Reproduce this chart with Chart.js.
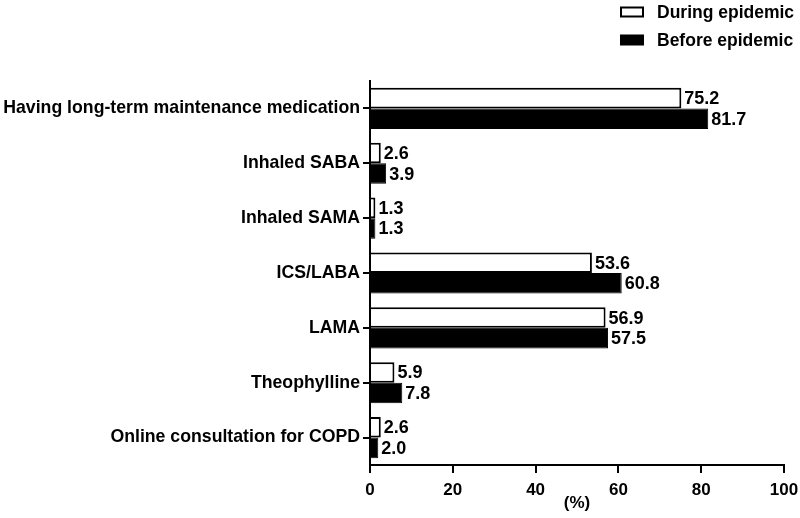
<!DOCTYPE html>
<html>
<head>
<meta charset="utf-8">
<script src="https://cdn.jsdelivr.net/npm/chart.js@4/dist/chart.umd.min.js"></script>
<style>
  html, body { margin: 0; padding: 0; background: #fff; }
  #wrap { width: 800px; height: 518px; position: relative; }
</style>
</head>
<body>
<div id="wrap"><canvas id="c" width="800" height="518"></canvas></div>
<script>
const categories = [
  "Having long-term maintenance medication",
  "Inhaled SABA",
  "Inhaled SAMA",
  "ICS/LABA",
  "LAMA",
  "Theophylline",
  "Online consultation for COPD"
];
const seriesNames = ["During epidemic", "Before epidemic"];
const duringEpidemic = [75.2, 2.6, 1.3, 53.6, 56.9, 5.9, 2.6];
const beforeEpidemic = [81.7, 3.9, 1.3, 60.8, 57.5, 7.8, 2.0];
const xTicks = [0, 20, 40, 60, 80, 100];

const FONT = "'Liberation Sans', Arial, Helvetica, sans-serif";

const valueLabels = {
  id: 'valueLabels',
  afterDatasetsDraw(chart) {
    const ctx = chart.ctx;
    ctx.save();
    ctx.font = "bold 18px " + FONT;
    ctx.fillStyle = '#000';
    ctx.textBaseline = 'middle';
    ctx.textAlign = 'left';
    chart.data.datasets.forEach((ds, di) => {
      const meta = chart.getDatasetMeta(di);
      meta.data.forEach((bar, i) => {
        ctx.fillText(ds.data[i].toFixed(1), bar.x + 3, bar.y + 1);
      });
    });
    ctx.restore();
  }
};

const customLegend = {
  id: 'customLegend',
  afterDraw(chart) {
    const ctx = chart.ctx;
    ctx.save();
    ctx.font = "bold 17.5px " + FONT;
    ctx.textBaseline = 'middle';
    ctx.textAlign = 'left';
    const ys = [12, 40];
    chart.data.datasets.forEach((ds, di) => {
      const y = ys[di];
      ctx.fillStyle = ds.backgroundColor;
      ctx.fillRect(621, y - 4.5, 22, 9);
      ctx.strokeStyle = '#000';
      ctx.lineWidth = 2;
      ctx.strokeRect(621, y - 4.5, 22, 9);
      ctx.fillStyle = '#000';
      ctx.fillText(ds.label, 657, y + 1);
    });
    ctx.restore();
  }
};

new Chart(document.getElementById('c'), {
  type: 'bar',
  data: {
    labels: categories,
    datasets: [
      { label: seriesNames[0], data: duringEpidemic, backgroundColor: '#ffffff', borderColor: '#000000', borderWidth: 2, categoryPercentage: 0.75, barPercentage: 1.0 },
      { label: seriesNames[1], data: beforeEpidemic, backgroundColor: '#000000', borderColor: '#000000', borderWidth: 1, categoryPercentage: 0.75, barPercentage: 1.0 }
    ]
  },
  options: {
    indexAxis: 'y',
    responsive: false,
    animation: false,
    devicePixelRatio: 1,
    layout: { padding: { top: 81, right: 16, left: 0, bottom: 0 } },
    plugins: { legend: { display: false }, tooltip: { enabled: false } },
    scales: {
      x: {
        min: 0, max: 100,
        afterBuildTicks(scale) { scale.ticks = xTicks.map(v => ({ value: v })); },
        afterFit(scale) { scale.height = 53; scale.paddingRight = 16; scale.paddingLeft = 0; },
        ticks: { color: '#000', font: { family: FONT, size: 17, weight: 'bold' }, padding: 7 },
        grid: { drawOnChartArea: false, drawTicks: true, tickLength: 8, color: '#000', lineWidth: 2 },
        border: { display: true, color: '#000', width: 2 },
        title: { display: true, text: '(%)', color: '#000', font: { family: FONT, size: 17, weight: 'bold' }, padding: { top: 0, bottom: 4 } }
      },
      y: {
        afterFit(scale) { scale.width = 370; scale.paddingTop = 0; scale.paddingBottom = 0; },
        ticks: { color: '#000', font: { family: FONT, size: 17.7, weight: 'bold' }, padding: 3 },
        grid: { offset: false, drawOnChartArea: false, drawTicks: true, tickLength: 7, color: '#000', lineWidth: 2 },
        border: { display: true, color: '#000', width: 2 }
      }
    }
  },
  plugins: [valueLabels, customLegend]
});
</script>
</body>
</html>
